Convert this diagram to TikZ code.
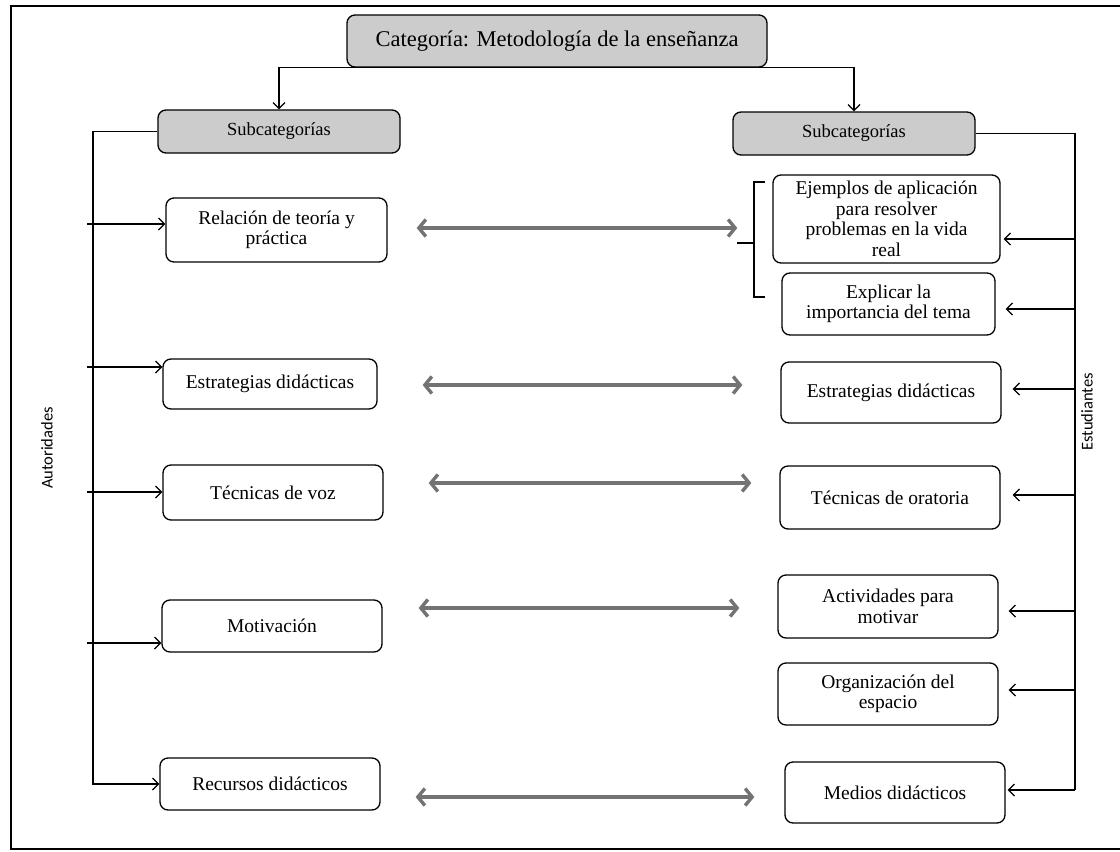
\documentclass[tikz,border=0pt]{standalone}
\usepackage{fontspec}
\setmainfont{Liberation Serif}
\newfontfamily\lblfont{Carlito}
\usetikzlibrary{arrows.meta}
\begin{document}
\begin{tikzpicture}[x=1pt,y=-1pt,
  box/.style={draw, line width=1.3pt, rounded corners=8pt, align=center, inner sep=2pt,
    font=\fontsize{19.5}{20.5}\selectfont},
  graybox/.style={box, fill=gray!40},
  conn/.style={line width=1.2pt},
  arr/.style={line width=1.2pt, -{Straight Barb[length=6pt,width=12pt]}},
  dbl/.style={line width=3.4pt, draw=gray!110,
    {Straight Barb[length=7pt,width=17pt]}-{Straight Barb[length=7pt,width=17pt]}},
  lbl/.style={rotate=90, font=\lblfont\fontsize{16.5}{18}\selectfont}]
\useasboundingbox (0,0) rectangle (1120,852);
% frame
\draw[line width=1.5pt] (1120,6) -- (11,6) -- (11,849) -- (1120,849);

% nodes
\node[graybox, minimum width=420pt, minimum height=52pt, font=\fontsize{22.5}{26}\selectfont] (cat) at (557,41) {Categoría: Metodología de la enseñanza};
\node[graybox, minimum width=242pt, minimum height=43pt, font=\fontsize{18.5}{20}\selectfont] (sub1) at (279,131.5) {Subcategorías};
\node[graybox, minimum width=242pt, minimum height=43pt, font=\fontsize{18.5}{20}\selectfont] (sub2) at (854,133.5) {Subcategorías};

\node[box, minimum width=221pt, minimum height=64pt] (rel) at (276.5,230) {Relación de teoría y\\práctica};
\node[box, minimum width=227pt, minimum height=88pt] (ejem) at (886.5,219) {Ejemplos de aplicación\\para resolver\\problemas en la vida\\real};
\node[box, minimum width=213pt, minimum height=62pt] (expl) at (888.5,304) {Explicar la\\importancia del tema};
\node[box, minimum width=214pt, minimum height=50pt] (estL) at (270,384) {Estrategias didácticas};
\node[box, minimum width=220pt, minimum height=61pt] (estR) at (891,392.5) {Estrategias didácticas};
\node[box, minimum width=220pt, minimum height=55pt] (tecL) at (273,492.5) {Técnicas de voz};
\node[box, minimum width=220pt, minimum height=63pt] (tecR) at (890,497.5) {Técnicas de oratoria};
\node[box, minimum width=220pt, minimum height=52pt] (mot) at (272,626) {Motivación};
\node[box, minimum width=220pt, minimum height=63pt] (act) at (888,606.5) {Actividades para\\motivar};
\node[box, minimum width=220pt, minimum height=62pt] (org) at (888,694) {Organización del\\espacio};
\node[box, minimum width=220pt, minimum height=52pt] (rec) at (270,784) {Recursos didácticos};
\node[box, minimum width=220pt, minimum height=61pt] (med) at (895,792.5) {Medios didácticos};

\node[lbl] (aut) at (47,448) {Autoridades};
\node[lbl] (estu) at (1087,412) {Estudiantes};

% top connectors
\draw[arr] (cat.south) -| (sub1.north);
\draw[arr] (cat.south) -| (sub2.north);

% left side (Autoridades)
\coordinate (lb) at (93,784);
\draw[arr] (sub1.west) -| (lb) -- (rec.west);
\coordinate (l1) at (87,224);
\coordinate (l2) at (87,367);
\coordinate (l3) at (87,492);
\coordinate (l4) at (87,643);
\draw[arr] (l1) -- (l1 -| rel.west);
\draw[arr] (l2) -- (l2 -| estL.west);
\draw[arr] (l3) -- (l3 -| tecL.west);
\draw[arr] (l4) -- (l4 -| mot.west);

% right side (Estudiantes)
\coordinate (rb) at (1075,790);
\draw[conn] (sub2.east) -| (rb);
\coordinate (r1) at (1075,239);
\coordinate (r2) at (1075,309);
\coordinate (r3) at (1075,389);
\coordinate (r4) at (1075,495);
\coordinate (r5) at (1075,611);
\coordinate (r6) at (1075,690);
\draw[arr, shorten >=3pt] (r1) -- (r1 -| ejem.east);
\draw[arr, shorten >=10pt] (r2) -- (r2 -| expl.east);
\draw[arr, shorten >=11pt] (r3) -- (r3 -| estR.east);
\draw[arr, shorten >=12pt] (r4) -- (r4 -| tecR.east);
\draw[arr, shorten >=10pt] (r5) -- (r5 -| act.east);
\draw[arr, shorten >=10pt] (r6) -- (r6 -| org.east);
\draw[arr, shorten >=2pt] (rb) -- (rb -| med.east);

% bracket
\draw[line width=1.6pt] (765,182) -- (754,182) -- (754,297) -- (765,297);
\draw[line width=1.6pt] (737,243) -- (754,243);

% gray double arrows
\draw[dbl, shorten <=29pt, shorten >=35pt] (rel.east |- 0,228) -- (ejem.west |- 0,228);
\draw[dbl, shorten <=45pt, shorten >=38pt] (estL.east |- 0,385) -- (estR.west |- 0,385);
\draw[dbl, shorten <=45pt, shorten >=28pt] (tecL.east |- 0,483) -- (tecR.west |- 0,483);
\draw[dbl, shorten <=36pt, shorten >=38pt] (mot.east |- 0,608) -- (act.west |- 0,608);
\draw[dbl, shorten <=35pt, shorten >=30pt] (rec.east |- 0,797) -- (med.west |- 0,797);
\end{tikzpicture}
\end{document}
